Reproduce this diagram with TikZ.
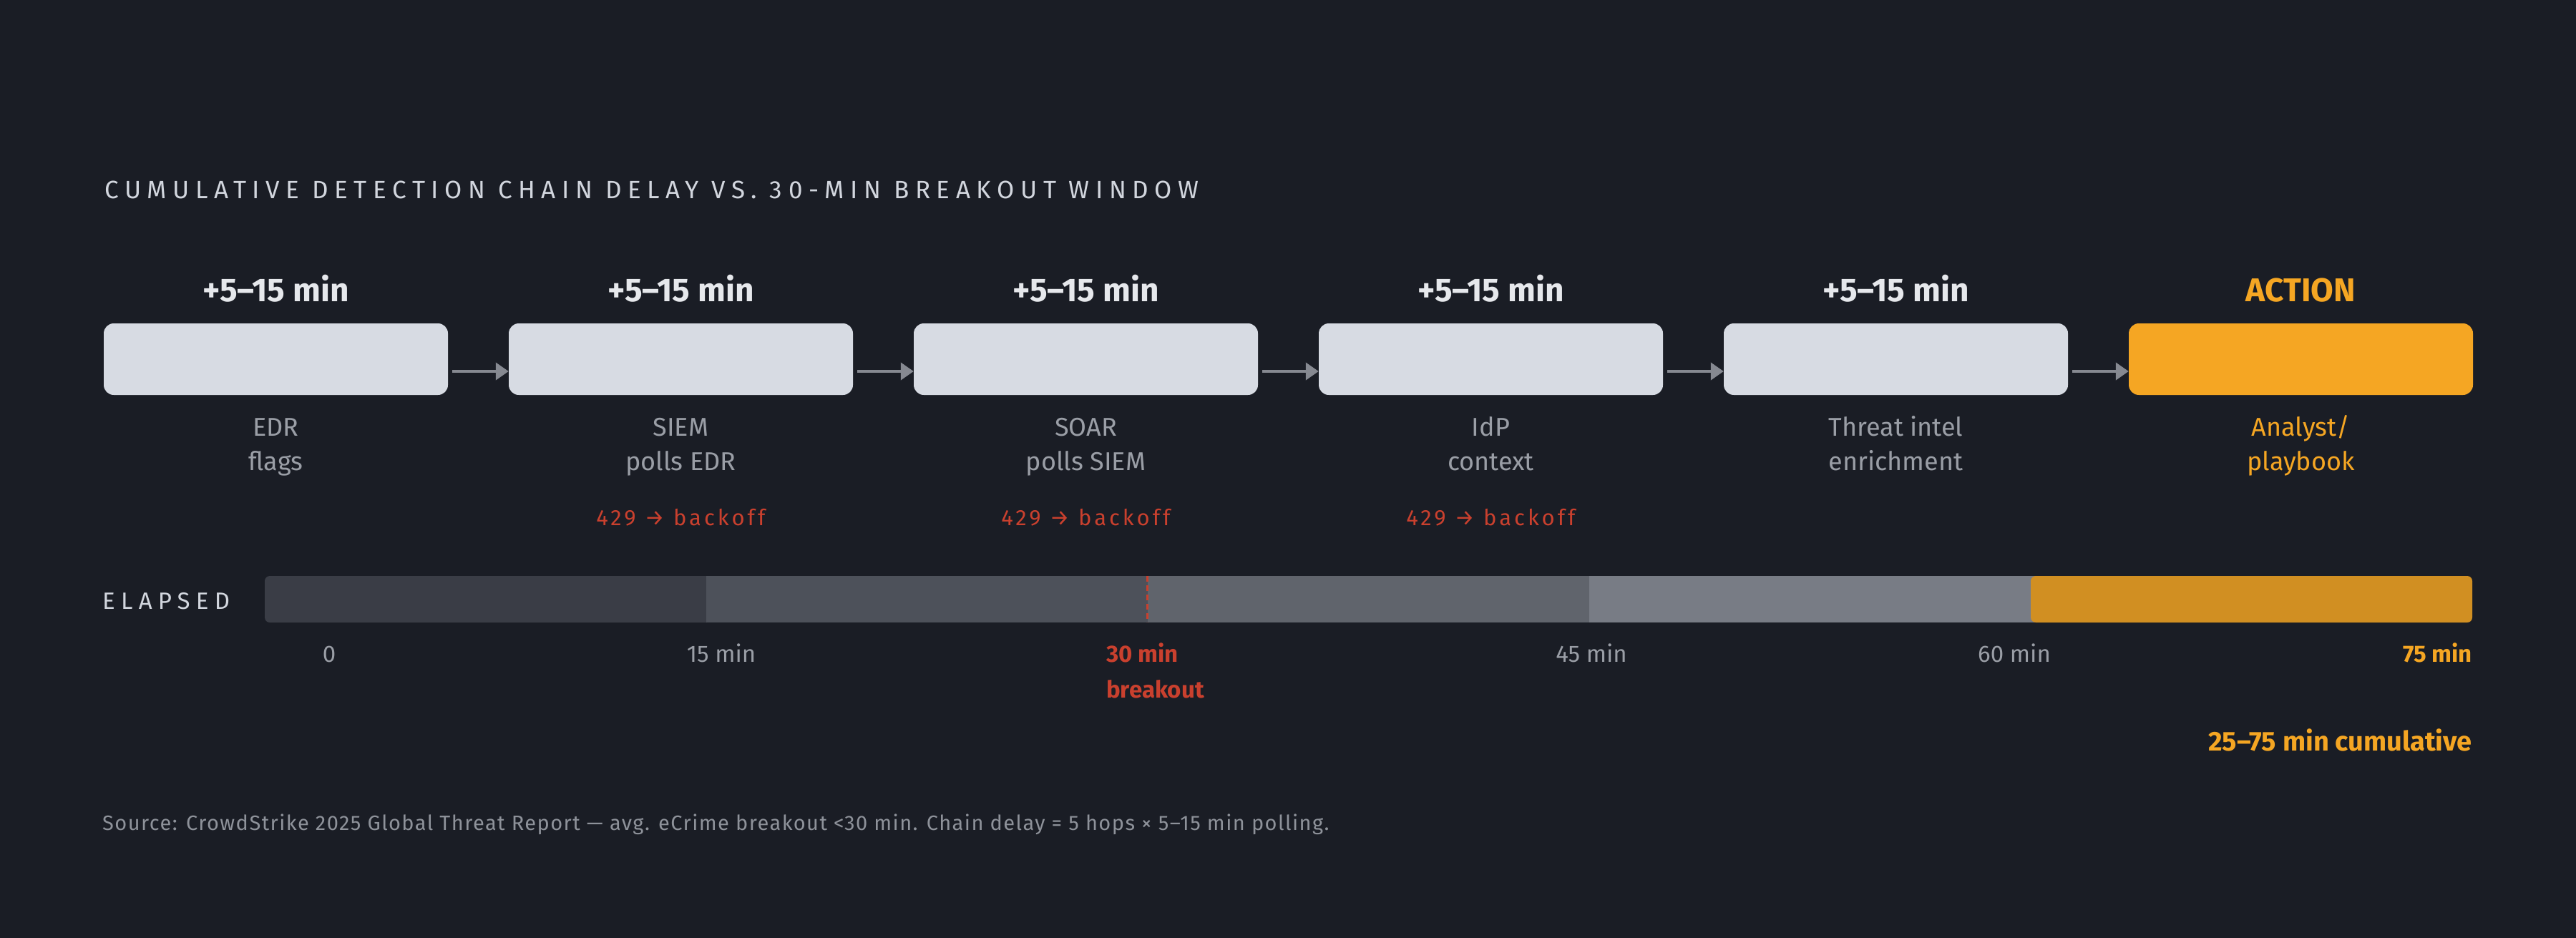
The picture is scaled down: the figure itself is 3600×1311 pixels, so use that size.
\documentclass[tikz,border=0pt]{standalone}
\usepackage{fontspec}
\setmainfont{Fira Sans}
\usetikzlibrary{arrows.meta}
\definecolor{bgc}{HTML}{1A1D25}
\definecolor{boxc}{HTML}{D7DBE3}
\definecolor{titlec}{HTML}{D2D6DE}
\definecolor{headc}{HTML}{E6E8EC}
\definecolor{subc}{HTML}{9A9EA6}
\definecolor{redc}{HTML}{C9402E}
\definecolor{orc}{HTML}{F5A623}
\definecolor{orbar}{HTML}{D18F22}
\definecolor{sega}{HTML}{3A3D46}
\definecolor{segb}{HTML}{4D515A}
\definecolor{segc}{HTML}{60646C}
\definecolor{segd}{HTML}{787C85}
\definecolor{arrc}{HTML}{868991}
\definecolor{srcc}{HTML}{8E929A}
\begin{document}
\begin{tikzpicture}[x=1pt,y=-1pt,
  stagebox/.style={minimum width=481pt,minimum height=100pt,rounded corners=14pt,fill=boxc,inner sep=0pt,draw=none},
  headlbl/.style={anchor=base,inner sep=0pt,text=headc,font=\fontsize{46}{55}\selectfont\bfseries},
  sublbl/.style={anchor=base,inner sep=0pt,text=subc,font=\fontsize{36}{44}\selectfont},
  errlbl/.style={anchor=base,inner sep=0pt,text=redc,font=\fontsize{31}{38}\selectfont\addfontfeature{LetterSpace=13}},
  ticklbl/.style={anchor=base,inner sep=0pt,text=subc,font=\fontsize{33}{40}\selectfont},
  flow/.style={draw=arrc,line width=4pt,-{Triangle[length=18pt,width=24pt]}},
]
\fill[bgc] (0,0) rectangle (3600,1311);
\useasboundingbox (0,0) rectangle (3600,1311);

% title
\node[anchor=base west,inner sep=0pt,text=titlec,font=\fontsize{35}{42}\selectfont\addfontfeature{LetterSpace=24.5}] (title) at (146,277) {CUMULATIVE DETECTION CHAIN DELAY VS. 30-MIN BREAKOUT WINDOW};

% stage boxes
\node[stagebox] (b1) at (385.5,502) {};
\node[stagebox] (b2) at (951.5,502) {};
\node[stagebox] (b3) at (1517.5,502) {};
\node[stagebox] (b4) at (2083.5,502) {};
\node[stagebox] (b5) at (2649.5,502) {};
\node[stagebox,fill=orc] (b6) at (3215.5,502) {};

% headers
\node[headlbl] (h1) at (385.5,421) {+5–15 min};
\node[headlbl] (h2) at (951.5,421) {+5–15 min};
\node[headlbl] (h3) at (1517.5,421) {+5–15 min};
\node[headlbl] (h4) at (2083.5,421) {+5–15 min};
\node[headlbl] (h5) at (2649.5,421) {+5–15 min};
\node[headlbl,text=orc] (h6) at (3215.5,421) {ACTION};

% arrows
\draw[flow] ([xshift=6pt,yshift=-17pt]b1.east) -- ([yshift=-17pt]b2.west);
\draw[flow] ([xshift=6pt,yshift=-17pt]b2.east) -- ([yshift=-17pt]b3.west);
\draw[flow] ([xshift=6pt,yshift=-17pt]b3.east) -- ([yshift=-17pt]b4.west);
\draw[flow] ([xshift=6pt,yshift=-17pt]b4.east) -- ([yshift=-17pt]b5.west);
\draw[flow] ([xshift=6pt,yshift=-17pt]b5.east) -- ([yshift=-17pt]b6.west);

% sub labels
\node[sublbl] (s1a) at (385.5,609) {EDR};
\node[sublbl] (s1b) at (385.5,657) {flags};
\node[sublbl] (s2a) at (951.5,609) {SIEM};
\node[sublbl] (s2b) at (951.5,657) {polls EDR};
\node[sublbl] (s3a) at (1517.5,609) {SOAR};
\node[sublbl] (s3b) at (1517.5,657) {polls SIEM};
\node[sublbl] (s4a) at (2083.5,609) {IdP};
\node[sublbl] (s4b) at (2083.5,657) {context};
\node[sublbl] (s5a) at (2649.5,609) {Threat intel};
\node[sublbl] (s5b) at (2649.5,657) {enrichment};
\node[sublbl,text=orc] (s6a) at (3215.5,609) {Analyst/};
\node[sublbl,text=orc] (s6b) at (3215.5,657) {playbook};

% 429 labels
\node[errlbl] (e2) at (951.5,734) {429 → backoff};
\node[errlbl] (e3) at (1517.5,734) {429 → backoff};
\node[errlbl] (e4) at (2083.5,734) {429 → backoff};

% elapsed bar
\node[anchor=base west,inner sep=0pt,text=titlec,font=\fontsize{33}{40}\selectfont\addfontfeature{LetterSpace=25}] (elapsed) at (143,851) {ELAPSED};
\fill[sega,rounded corners=7pt] (370,805) rectangle (995,870);
\fill[segb] (987,805) rectangle (1604,870);
\fill[segc] (1604,805) rectangle (2221,870);
\fill[segd] (2221,805) rectangle (2845,870);
\fill[orbar,rounded corners=7pt] (2838,805) rectangle (3455,870);
\draw[redc,line width=3pt,dash pattern=on 8pt off 5pt] (1603.5,805) -- (1603.5,870);

% tick labels
\node[ticklbl] (t0) at (460,925) {0};
\node[ticklbl] (t15) at (1008,925) {15 min};
\node[ticklbl,anchor=base west,text=redc,font=\fontsize{33}{40}\selectfont\bfseries] (t30) at (1546,925) {30 min};
\node[ticklbl,anchor=base west,text=redc,font=\fontsize{33}{40}\selectfont\bfseries] (t30b) at (1546,975) {breakout};
\node[ticklbl] (t45) at (2224,925) {45 min};
\node[ticklbl] (t60) at (2815,925) {60 min};
\node[ticklbl,anchor=base east,text=orc,font=\fontsize{33}{40}\selectfont\bfseries] (t75) at (3455,925) {75 min};

\node[anchor=base east,inner sep=0pt,text=orc,font=\fontsize{38}{46}\selectfont\bfseries] (cum) at (3455,1049) {25–75 min cumulative};

% source
\node[anchor=base west,inner sep=0pt,text=srcc,font=\fontsize{29}{35}\selectfont\addfontfeature{LetterSpace=5}] (src) at (143,1160) {Source: CrowdStrike 2025 Global Threat Report — avg. eCrime breakout <30 min. Chain delay = 5 hops × 5–15 min polling.};
\end{tikzpicture}
\end{document}
